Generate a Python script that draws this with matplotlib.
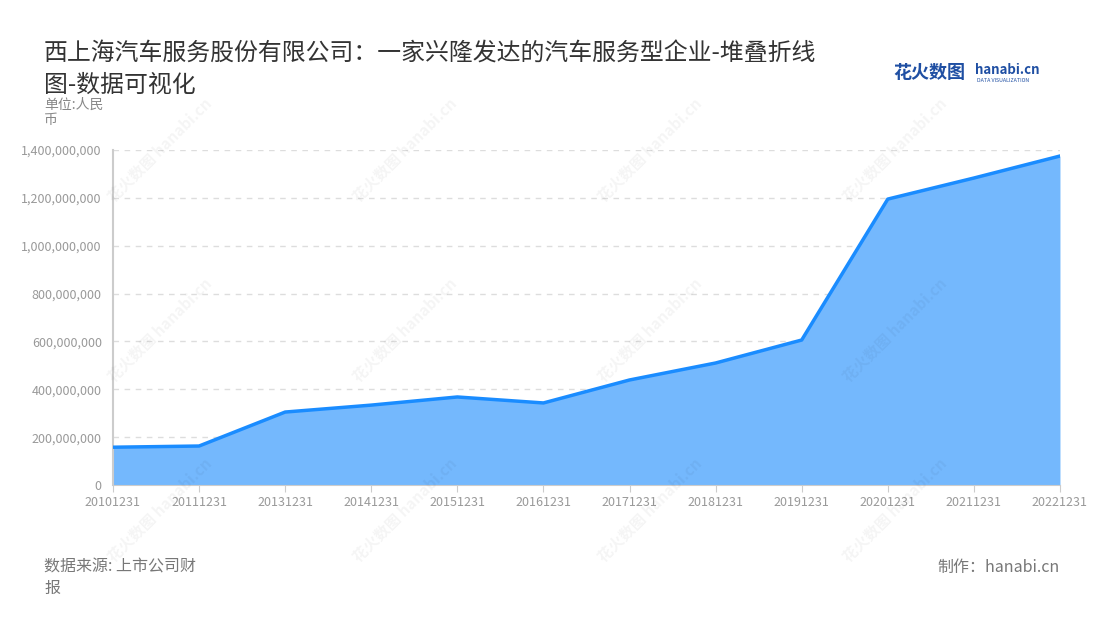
import matplotlib
matplotlib.use("Agg")
import matplotlib.pyplot as plt
from matplotlib.ticker import FuncFormatter

plt.rcParams['font.family'] = ['Noto Sans CJK SC', 'DejaVu Sans']

dates = ['20101231', '20111231', '20131231', '20141231', '20151231', '20161231',
         '20171231', '20181231', '20191231', '20201231', '20211231', '20221231']
values = [158e6, 163e6, 305e6, 334e6, 368e6, 343e6,
          439e6, 510e6, 606e6, 1195e6, 1283e6, 1375e6]
yticks = [0, 200e6, 400e6, 600e6, 800e6, 1000e6, 1200e6, 1400e6]

title1 = '西上海汽车服务股份有限公司：一家兴隆发达的汽车服务型企业-堆叠折线'
title2 = '图-数据可视化'

fig = plt.figure(figsize=(11, 6.2), dpi=100)
ax = fig.add_axes([0.1027, 0.2177, 0.8609, 0.5403])

x = list(range(len(dates)))
ax.fill_between(x, values, 0, color='#74b8fd', lw=0, zorder=2)
ax.plot(x, values, color='#1a8cff', lw=2.5, zorder=3, solid_joinstyle='round')

ax.set_xlim(0, len(dates) - 1)
ax.set_ylim(0, 1400e6)
ax.set_xticks(x)
ax.set_xticklabels(dates)
ax.set_yticks(yticks)
ax.yaxis.set_major_formatter(FuncFormatter(lambda v, p: f'{int(v):,}'))
ax.grid(axis='y', ls=(0, (4, 4)), color='#dddddd', lw=1, zorder=1)
for s in ['top', 'right']:
    ax.spines[s].set_visible(False)
ax.spines['left'].set_color('#cccccc')
ax.spines['bottom'].set_color('#cccccc')
ax.spines['left'].set_linewidth(1.5)
ax.tick_params(axis='y', length=0, labelsize=9, labelcolor='#999999', pad=8)
ax.tick_params(axis='x', length=5, color='#cccccc', labelsize=9, labelcolor='#999999', pad=3)

fig.text(44 / 1100, 1 - 54 / 620, title1, fontsize=17.2, color='#333333', va='center')
fig.text(44 / 1100, 1 - 85 / 620, title2, fontsize=17.2, color='#333333', va='center')
fig.text(44 / 1100, 1 - 105 / 620, '单位:人民', fontsize=10, color='#888888', va='center')
fig.text(44 / 1100, 1 - 120 / 620, '币', fontsize=10, color='#888888', va='center')

fig.text(44 / 1100, 1 - 567 / 620, '数据来源: 上市公司财', fontsize=11.5, color='#777777', va='center')
fig.text(44 / 1100, 1 - 588 / 620, '报', fontsize=11.5, color='#777777', va='center')
fig.text(1060 / 1100, 1 - 567 / 620, '制作：hanabi.cn', fontsize=11.5, color='#777777',
         va='center', ha='right')

# logo
fig.text(893 / 1100, 1 - 73 / 620, '花火数图', fontsize=13, color='#1f4fa3', va='center',
         fontweight='bold')
fig.text(975 / 1100, 1 - 70 / 620, 'hanabi.cn', fontsize=9.5, color='#1f4fa3', va='center',
         fontweight='bold')
fig.text(977 / 1100, 1 - 80 / 620, 'DATA VISUALIZATION', fontsize=3.8, color='#1f4fa3',
         va='center')

# watermarks
for cx in [160, 405, 650, 895]:
    for cy in [150, 330, 510]:
        fig.text(cx / 1100, 1 - cy / 620, '花火数图 hanabi.cn', fontsize=11, color='#000000',
                 alpha=0.045, rotation=45, ha='center', va='center', fontweight='bold')

fig.savefig('out.png', dpi=100)
